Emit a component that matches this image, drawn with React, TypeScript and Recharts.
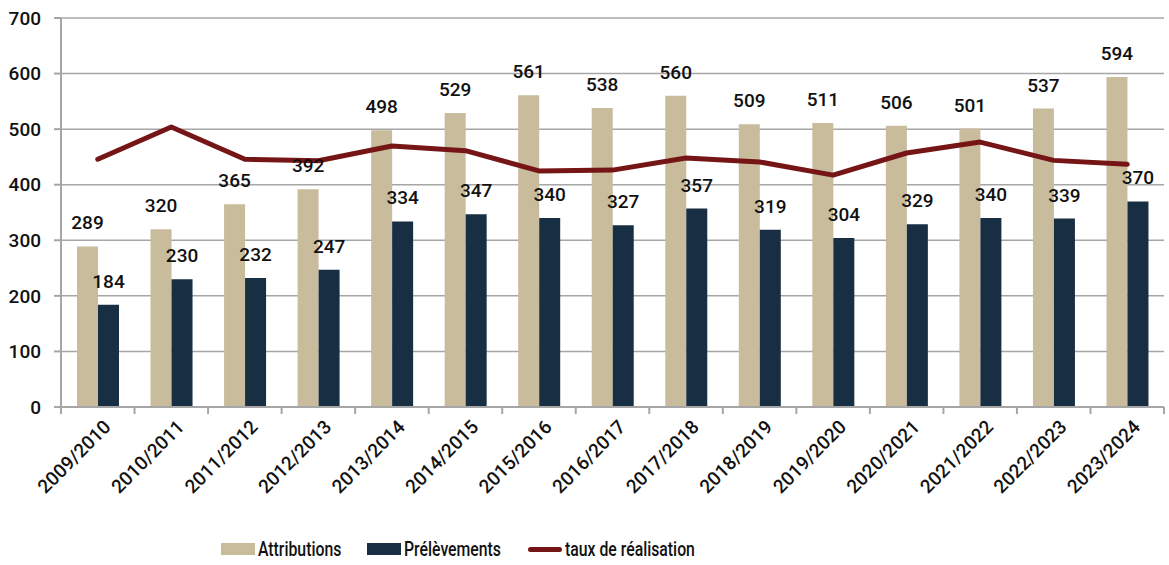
import React from "react";
import {
  ComposedChart,
  Bar,
  Line,
  XAxis,
  YAxis,
  CartesianGrid,
  Legend,
  LabelList,
} from "recharts";

const categories = [
  "2009/2010", "2010/2011", "2011/2012", "2012/2013", "2013/2014",
  "2014/2015", "2015/2016", "2016/2017", "2017/2018", "2018/2019",
  "2019/2020", "2020/2021", "2021/2022", "2022/2023", "2023/2024",
];
const attributions = [289, 320, 365, 392, 498, 529, 561, 538, 560, 509, 511, 506, 501, 537, 594];
const prelevements = [184, 230, 232, 247, 334, 347, 340, 327, 357, 319, 304, 329, 340, 339, 370];
const tauxRealisation = [63.7, 72.0, 63.7, 63.3, 67.1, 65.9, 60.7, 60.9, 64.0, 63.0, 59.6, 65.3, 68.1, 63.4, 62.4];
const yTicks = [0, 100, 200, 300, 400, 500, 600, 700];
const legendLabels = ["Attributions", "Prélèvements", "taux de réalisation"];

const data = categories.map((c, i) => ({
  cat: c,
  attributions: attributions[i],
  prelevements: prelevements[i],
  taux: tauxRealisation[i],
}));

const C_ATTR = "#C9BC9C";
const C_PREL = "#182E43";
const C_LINE = "#761515";
const GRID = "#A6A6A6";
const NUM_FONT = "Roboto, 'Liberation Sans', Arial, sans-serif";

const BarLabel = (props: any) => {
  const { x, y, width, value } = props;
  return (
    <text
      x={x + width / 2}
      y={y - 17}
      textAnchor="middle"
      fontFamily={NUM_FONT}
      fontWeight={500}
      fontSize={19}
      fill="#111"
    >
      {value}
    </text>
  );
};

const XTick = (props: any) => {
  const { x, y, payload, index } = props;
  const half = 73.5 / 2;
  const tx = x + 4;
  const ty = y + 3;
  return (
    <g>
      <line x1={x - half} x2={x - half} y1={y - 8} y2={y - 1} stroke={GRID} strokeWidth={2} />
      {index === categories.length - 1 && (
        <line x1={x + half} x2={x + half} y1={y - 8} y2={y - 1} stroke={GRID} strokeWidth={2} />
      )}
      <text
        x={tx}
        y={ty}
        textAnchor="end"
        dominantBaseline="hanging"
        transform={`rotate(-45, ${tx}, ${ty})`}
        fontFamily={NUM_FONT}
        fontWeight={500}
        fontSize={19}
        fill="#111"
      >
        {payload.value}
      </text>
    </g>
  );
};

const LegendContent = () => {
  const swatchLeft = [221, 367, 528];
  const textStyle: React.CSSProperties = {
    position: "absolute",
    top: 8,
    fontFamily: NUM_FONT,
    fontWeight: 500,
    fontSize: 20,
    lineHeight: "24px",
    color: "#111",
    whiteSpace: "nowrap",
    transform: "scaleX(0.79)",
    transformOrigin: "left center",
  };
  return (
    <div style={{ position: "relative", width: 1169, height: 36 }}>
      <div style={{ position: "absolute", left: swatchLeft[0], top: 14, width: 34, height: 12, background: C_ATTR }} />
      <span style={{ ...textStyle, left: swatchLeft[0] + 37 }}>{legendLabels[0]}</span>
      <div style={{ position: "absolute", left: swatchLeft[1], top: 14, width: 34, height: 12, background: C_PREL }} />
      <span style={{ ...textStyle, left: swatchLeft[1] + 37 }}>{legendLabels[1]}</span>
      <div style={{ position: "absolute", left: swatchLeft[2], top: 17.5, width: 34, height: 5, borderRadius: 3, background: C_LINE }} />
      <span style={{ ...textStyle, left: swatchLeft[2] + 37 }}>{legendLabels[2]}</span>
    </div>
  );
};

export default function App() {
  return (
    <div style={{ position: "absolute", left: 0, top: 0, background: "#fff" }}>
      <ComposedChart
        width={1169}
        height={565}
        data={data}
        margin={{ top: 18, right: 5, left: 0, bottom: 0 }}
        barGap={0}
        barSize={21}
      >
        <CartesianGrid vertical={false} stroke={GRID} strokeWidth={1.5} yAxisId="left" />
        <XAxis
          dataKey="cat"
          height={122}
          tickLine={false}
          axisLine={{ stroke: GRID, strokeWidth: 2 }}
          tick={<XTick />}
          interval={0}
        />
        <YAxis
          yAxisId="left"
          width={61}
          domain={[0, 700]}
          ticks={yTicks}
          tickSize={7}
          tickMargin={13}
          tickLine={{ stroke: GRID, strokeWidth: 2 }}
          axisLine={{ stroke: GRID, strokeWidth: 2 }}
          tick={{ fontFamily: NUM_FONT, fontWeight: 500, fontSize: 19, fill: "#111" }}
        />
        <YAxis
          yAxisId="pct"
          orientation="right"
          width={0}
          domain={[0, 100]}
          tick={false}
          tickLine={false}
          axisLine={{ stroke: GRID, strokeWidth: 2 }}
        />
        <Legend
          verticalAlign="bottom"
          height={36}
          wrapperStyle={{ left: 0, width: 1169 }}
          content={<LegendContent />}
        />
        <Bar yAxisId="left" dataKey="attributions" name={legendLabels[0]} fill={C_ATTR} isAnimationActive={false}>
          <LabelList dataKey="attributions" content={<BarLabel />} />
        </Bar>
        <Bar yAxisId="left" dataKey="prelevements" name={legendLabels[1]} fill={C_PREL} isAnimationActive={false}>
          <LabelList dataKey="prelevements" content={<BarLabel />} />
        </Bar>
        <Line
          yAxisId="pct"
          dataKey="taux"
          name={legendLabels[2]}
          stroke={C_LINE}
          strokeWidth={5}
          dot={false}
          strokeLinecap="round"
          strokeLinejoin="round"
          isAnimationActive={false}
        />
      </ComposedChart>
    </div>
  );
}
